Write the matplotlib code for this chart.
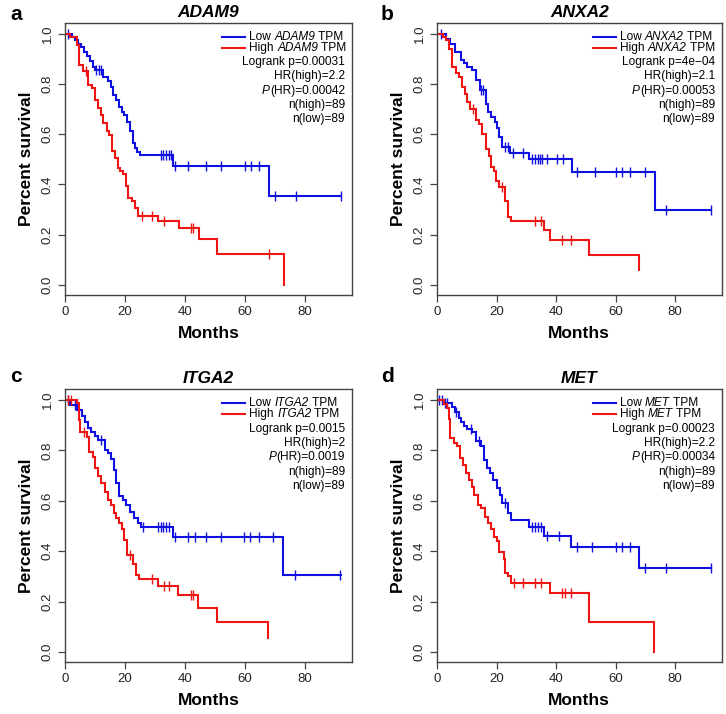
import numpy as np
import matplotlib
matplotlib.use("Agg")
import matplotlib.pyplot as plt

plt.rcParams['font.family'] = ['Liberation Sans', 'DejaVu Sans']

# ---------------- data ----------------
genes = ["ADAM9", "ANXA2", "ITGA2", "MET"]
panel_letters = ["a", "b", "c", "d"]
logrank_p = ["0.00031", "4e\u221204", "0.0015", "0.00023"]
hr_high = ["2.2", "2.1", "2", "2.2"]
p_hr = ["0.00042", "0.00053", "0.0019", "0.00034"]
n_high = [89, 89, 89, 89]
n_low = [89, 89, 89, 89]

# ADAM9
a_low_t = [2.2, 3.3, 4.4, 5.2, 6.3, 7.4, 8.3, 9.2, 10, 12.8, 14.4, 15.2, 16.1, 17, 18.1, 18.9, 19.8, 20.8, 21.7, 22.6, 23.3, 24.1, 25, 36.1, 67.9]
a_low_s = [0.987, 0.974, 0.96, 0.947, 0.927, 0.91, 0.89, 0.868, 0.857, 0.829, 0.81, 0.79, 0.757, 0.737, 0.71, 0.69, 0.677, 0.65, 0.611, 0.565, 0.545, 0.53, 0.518, 0.472, 0.356]
a_low_c = [1.1, 10.5, 11.3, 12, 32, 32.8, 33.7, 34.6, 35.3, 36.7, 40.9, 46.9, 51.9, 60, 61.9, 64.8, 70, 76.9, 92]
a_low_end = 92
a_high_t = [1.7, 3.9, 4.7, 5.9, 7.8, 8.9, 10, 10.9, 11.9, 12.8, 13.9, 14.7, 15.8, 16.7, 17.6, 18.3, 19.4, 20.3, 21, 22.5, 23.5, 24.5, 31, 38, 44.8, 50.8, 73]
a_high_s = [0.989, 0.955, 0.876, 0.853, 0.796, 0.783, 0.737, 0.704, 0.677, 0.644, 0.611, 0.598, 0.532, 0.505, 0.466, 0.452, 0.44, 0.395, 0.347, 0.333, 0.305, 0.274, 0.255, 0.225, 0.181, 0.122, 0.0]
a_high_c = [6.9, 25.8, 28.9, 33, 42, 42.8, 68]
a_high_end = 73

# ANXA2
b_low_t = [3, 4.3, 6.1, 8, 9.1, 10.2, 11.9, 13, 14.3, 16.3, 17.2, 18.3, 19.4, 20.2, 21, 21.9, 24.5, 31, 45.2, 73.2]
b_low_s = [0.981, 0.961, 0.928, 0.895, 0.882, 0.869, 0.855, 0.815, 0.775, 0.722, 0.689, 0.669, 0.649, 0.623, 0.59, 0.55, 0.527, 0.50, 0.451, 0.30]
b_low_c = [1.2, 14.7, 15.4, 23, 24, 25.5, 29, 32, 33, 33.8, 34.5, 35.2, 36.9, 40.2, 42.4, 47, 53, 60, 62, 65, 70, 77, 92]
b_low_end = 92
b_high_t = [1.9, 3, 4.1, 5.2, 6.3, 7.4, 8.3, 9.4, 10.2, 11, 13, 14, 15, 16.3, 17.4, 18.3, 19.1, 19.9, 20.8, 22.8, 23.9, 25, 36, 38, 51, 68]
b_high_s = [0.988, 0.975, 0.941, 0.869, 0.842, 0.829, 0.789, 0.762, 0.73, 0.70, 0.655, 0.64, 0.60, 0.542, 0.515, 0.469, 0.455, 0.415, 0.389, 0.336, 0.269, 0.256, 0.22, 0.18, 0.12, 0.06]
b_high_c = [12, 21.8, 33, 35, 42, 45]
b_high_end = 68

# ITGA2
c_low_t = [1.8, 4, 5.7, 6.8, 7.7, 8.8, 9.9, 11, 13.2, 14.3, 15.4, 16.2, 17, 18.1, 19.2, 20.3, 21.8, 22.9, 24.3, 25.4, 35.9, 72.6]
c_low_s = [0.98, 0.96, 0.936, 0.914, 0.888, 0.874, 0.857, 0.841, 0.801, 0.788, 0.768, 0.722, 0.669, 0.619, 0.603, 0.583, 0.556, 0.53, 0.51, 0.497, 0.457, 0.305]
c_low_c = [1, 3.3, 12.1, 25.9, 31.1, 32, 32.8, 33.7, 34.6, 36.7, 40.9, 43.3, 46.9, 51.9, 59.7, 61.7, 64.8, 69.4, 76.7, 91.7]
c_low_end = 92
c_high_t = [4, 4.8, 5.1, 7.3, 7.9, 9.2, 10.1, 11, 12.1, 13.2, 14.2, 15.4, 16.2, 17, 18.1, 19.1, 19.7, 20.7, 22.6, 23.7, 24.8, 30.9, 37.8, 44.4, 50.6, 67.6]
c_high_s = [0.987, 0.92, 0.874, 0.854, 0.795, 0.775, 0.729, 0.698, 0.669, 0.636, 0.603, 0.583, 0.55, 0.53, 0.51, 0.49, 0.444, 0.384, 0.351, 0.305, 0.291, 0.261, 0.228, 0.176, 0.117, 0.057]
c_high_c = [1, 2, 6.5, 21.8, 28.9, 33, 34.8, 41.9, 42.8]
c_high_end = 67.6

# MET
d_low_t = [2.5, 5.1, 6.2, 7.3, 7.9, 9, 10.1, 11.8, 13, 14.7, 15.8, 16.9, 17.8, 18.9, 20.1, 21.2, 22, 23.7, 24.8, 31, 36, 45, 68]
d_low_s = [0.987, 0.973, 0.952, 0.93, 0.912, 0.899, 0.885, 0.872, 0.836, 0.816, 0.763, 0.73, 0.71, 0.683, 0.65, 0.623, 0.59, 0.55, 0.523, 0.495, 0.46, 0.418, 0.333]
d_low_c = [0.6, 1.7, 2.8, 3.4, 6.5, 11.3, 14.1, 23, 32, 33, 34, 35, 37, 41, 47, 52, 60, 62, 65, 70, 77, 92]
d_low_end = 92
d_high_t = [2.3, 3.2, 4, 4.5, 5.6, 6.8, 7.7, 8.8, 9.6, 10.7, 11.8, 12.4, 13.8, 14.9, 16, 17, 18, 19, 20, 21, 22.5, 23, 24, 25, 38, 51, 73]
d_high_s = [0.983, 0.97, 0.923, 0.85, 0.83, 0.816, 0.77, 0.743, 0.71, 0.683, 0.656, 0.623, 0.583, 0.57, 0.536, 0.51, 0.49, 0.455, 0.44, 0.395, 0.37, 0.315, 0.30, 0.275, 0.235, 0.118, 0.0]
d_high_c = [26, 29, 33, 35, 42, 43, 45]
d_high_end = 73

panels = [
    (a_low_t, a_low_s, a_low_c, a_low_end, a_high_t, a_high_s, a_high_c, a_high_end),
    (b_low_t, b_low_s, b_low_c, b_low_end, b_high_t, b_high_s, b_high_c, b_high_end),
    (c_low_t, c_low_s, c_low_c, c_low_end, c_high_t, c_high_s, c_high_c, c_high_end),
    (d_low_t, d_low_s, d_low_c, d_low_end, d_high_t, d_high_s, d_high_c, d_high_end),
]

x_ticks = [0, 20, 40, 60, 80]
y_ticks = [0.0, 0.2, 0.4, 0.6, 0.8, 1.0]

# ---------------- layout ----------------
W, H = 726, 714
fig = plt.figure(figsize=(W / 100, H / 100), dpi=100)

def px_rect(left, top, right, bottom):
    return [left / W, 1 - bottom / H, (right - left) / W, (bottom - top) / H]

rects = [
    px_rect(65, 22.7, 351.7, 295),
    px_rect(437, 22.7, 721.5, 295),
    px_rect(65, 389, 351.7, 662),
    px_rect(437, 389, 721.5, 662),
]
letter_pos = [(10, 15), (381, 15), (10, 377), (381, 377)]

BLUE = "#1010e0"
RED = "#ee1515"
FRAME = "#444444"
LEG_FS = 8.6


def draw_km(ax, t, s, c, end, color):
    xs = np.concatenate([[0.0], np.asarray(t, float), [end]])
    ys = np.concatenate([[1.0], np.asarray(s, float), [s[-1]]])
    ax.step(xs, ys, where="post", color=color, lw=1.5, solid_joinstyle="miter")
    tt = np.asarray(t, float)
    cc = np.asarray(c, float)
    idx = np.searchsorted(tt, cc, side="right")
    levels = np.concatenate([[1.0], np.asarray(s, float)])[idx]
    ax.plot(cc, levels, linestyle="none", marker="|", markersize=7,
            markeredgewidth=1.0, color=color)


def chain_text(ax, x, y, pieces, ha="left"):
    """Write several text pieces (text, style) one after another on one line."""
    if ha == "left":
        prev = ax.text(x, y, pieces[0][0], style=pieces[0][1], transform=ax.transAxes,
                       fontsize=LEG_FS, va="center", ha="left")
        for txt, st in pieces[1:]:
            prev = ax.annotate(txt, xy=(1, 0), xycoords=prev, fontsize=LEG_FS,
                               style=st, va="bottom", ha="left")
    else:
        prev = ax.text(x, y, pieces[-1][0], style=pieces[-1][1], transform=ax.transAxes,
                       fontsize=LEG_FS, va="center", ha="right")
        for txt, st in reversed(pieces[:-1]):
            prev = ax.annotate(txt, xy=(0, 0), xycoords=prev, fontsize=LEG_FS,
                               style=st, va="bottom", ha="right")


for i, (ax_rect, gene, letter) in enumerate(zip(rects, genes, panel_letters)):
    ax = fig.add_axes(ax_rect)
    lt, ls, lc, le, ht, hs, hc, he = panels[i]
    draw_km(ax, lt, ls, lc, le, BLUE)
    draw_km(ax, ht, hs, hc, he, RED)

    ax.set_xlim(0, 95.6)
    ax.set_ylim(-0.04, 1.044)
    ax.set_xticks(x_ticks)
    ax.set_yticks(y_ticks)
    ax.set_xticklabels([str(v) for v in x_ticks], fontsize=9.5, color="#222222")
    ax.set_yticklabels([f"{v:.1f}" for v in y_ticks], fontsize=9.5,
                       rotation=90, va="center", color="#222222")
    ax.tick_params(direction="out", length=5, width=0.9, color=FRAME, pad=3)
    for sp in ax.spines.values():
        sp.set_color(FRAME)
        sp.set_linewidth(1.0)

    ax.set_xlabel("Months", fontsize=12.5, fontweight="bold", labelpad=6)
    ax.set_ylabel("Percent survival", fontsize=12.5, fontweight="bold", labelpad=6)
    ax.set_title(gene, fontsize=12.5, fontweight="bold", style="italic", pad=4)

    # legend
    ax.plot([0.547, 0.628], [0.949, 0.949], transform=ax.transAxes, color=BLUE, lw=1.5)
    ax.plot([0.547, 0.628], [0.908, 0.908], transform=ax.transAxes, color=RED, lw=1.5)
    chain_text(ax, 0.643, 0.949, [("Low ", "normal"), (gene, "italic"), (" TPM", "normal")])
    chain_text(ax, 0.643, 0.908, [("High ", "normal"), (gene, "italic"), (" TPM", "normal")])
    ystat = [0.855 - k * 0.0524 for k in range(5)]
    ax.text(0.977, ystat[0], f"Logrank p={logrank_p[i]}", transform=ax.transAxes,
            fontsize=LEG_FS, va="center", ha="right")
    ax.text(0.977, ystat[1], f"HR(high)={hr_high[i]}", transform=ax.transAxes,
            fontsize=LEG_FS, va="center", ha="right")
    chain_text(ax, 0.977, ystat[2], [("P", "italic"), ("(HR)=" + p_hr[i], "normal")], ha="right")
    ax.text(0.977, ystat[3], f"n(high)={n_high[i]}", transform=ax.transAxes,
            fontsize=LEG_FS, va="center", ha="right")
    ax.text(0.977, ystat[4], f"n(low)={n_low[i]}", transform=ax.transAxes,
            fontsize=LEG_FS, va="center", ha="right")

    lx, ly = letter_pos[i]
    fig.text(lx / W, 1 - ly / H, letter, fontsize=15, fontweight="bold",
             ha="left", va="center")

fig.savefig("out.png", dpi=100)
